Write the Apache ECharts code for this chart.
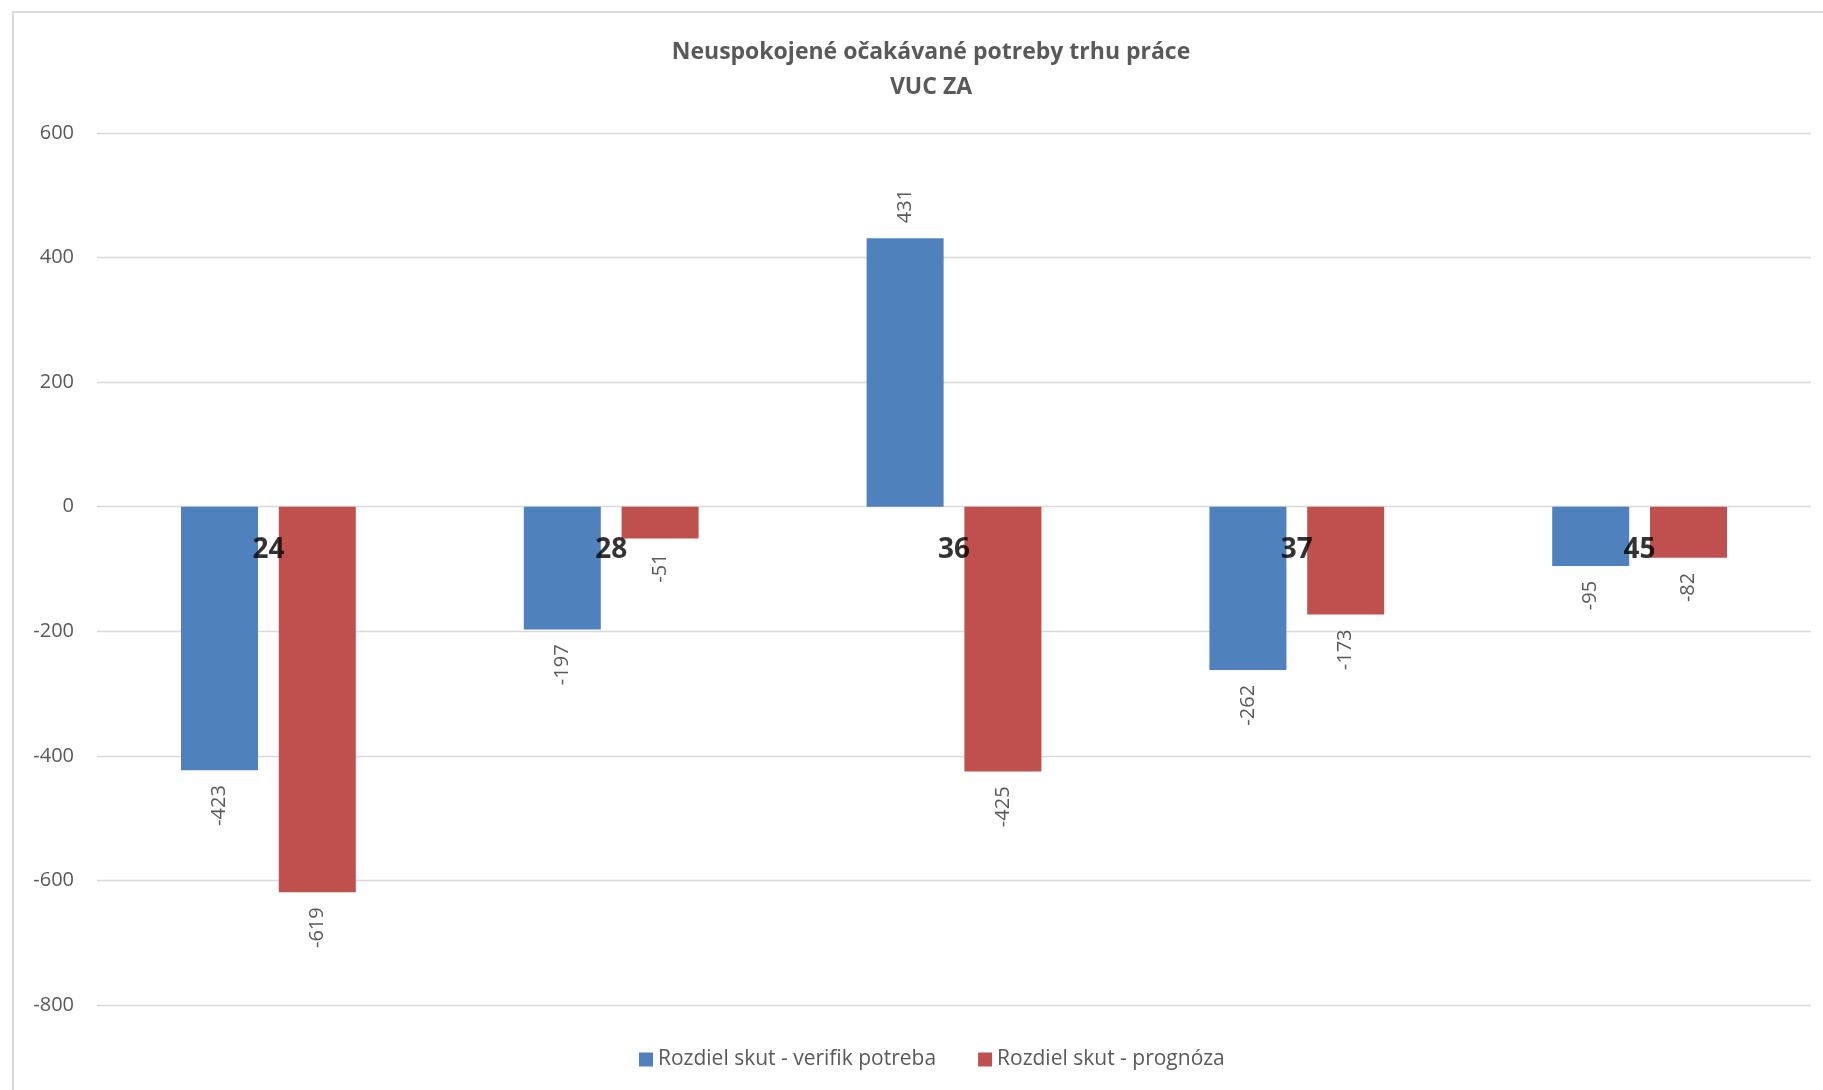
<!DOCTYPE html>
<html>
<head>
<meta charset="utf-8">
<script src="https://cdn.jsdelivr.net/npm/echarts@6/dist/echarts.min.js"></script>
<style>
html,body{margin:0;padding:0;background:#fff;}
#chart{width:1823px;height:1090px;}
</style>
</head>
<body>
<div id="chart"></div>
<script>
const categories = ['24', '28', '36', '37', '45'];
const seriesNames = ['Rozdiel skut - verifik potreba', 'Rozdiel skut - prognóza'];
const verifikValues = [-423, -197, 431, -262, -95];
const prognozaValues = [-619, -51, -425, -173, -82];
const yTicks = [-800, -600, -400, -200, 0, 200, 400, 600];

const FONT = "'Open Sans', 'Noto Sans', sans-serif";
const labelColor = '#595959';

function withLabels(values) {
  return values.map(v => ({
    value: v,
    label: {
      show: true,
      position: v < 0 ? 'bottom' : 'top',
      rotate: 90,
      align: v < 0 ? 'right' : 'left',
      verticalAlign: 'middle',
      distance: 15,
      color: labelColor,
      fontSize: 20,
      fontFamily: FONT
    }
  }));
}

const chart = echarts.init(document.getElementById('chart'), null, {renderer: 'canvas'});
chart.setOption({
  animation: false,
  backgroundColor: '#ffffff',
  title: {
    text: 'Neuspokojené očakávané potreby trhu práce\nVUC ZA',
    left: 926,
    textAlign: 'center',
    top: 30,
    textStyle: {
      fontFamily: FONT,
      fontSize: 23,
      fontWeight: 'bold',
      color: labelColor,
      lineHeight: 35
    }
  },
  graphic: [{
    type: 'rect',
    shape: {x: 13, y: 12, width: 1830, height: 1100},
    style: {fill: 'none', stroke: '#d9d9d9', lineWidth: 2},
    silent: true,
    z: -1
  }],
  legend: {
    data: seriesNames,
    left: 634,
    top: 1044,
    itemWidth: 14,
    itemHeight: 14,
    itemGap: 42,
    icon: 'rect',
    textStyle: {fontFamily: FONT, fontSize: 21, color: labelColor}
  },
  grid: {left: 97, right: 12, top: 133, bottom: 85, containLabel: false},
  xAxis: {
    type: 'category',
    data: categories,
    axisLine: {show: false},
    axisTick: {show: false},
    axisLabel: {show: false}
  },
  yAxis: {
    type: 'value',
    min: yTicks[0],
    max: yTicks[yTicks.length - 1],
    interval: 200,
    axisLine: {show: false},
    axisTick: {show: false},
    axisLabel: {margin: 23, fontFamily: FONT, fontSize: 20, color: labelColor},
    splitLine: {lineStyle: {color: '#d9d9d9', width: 1.3}}
  },
  series: [
    {
      name: seriesNames[0],
      type: 'bar',
      data: withLabels(verifikValues),
      barWidth: 77,
      barGap: '27%',
      itemStyle: {color: '#4F81BD'}
    },
    {
      name: seriesNames[1],
      type: 'bar',
      data: withLabels(prognozaValues),
      barWidth: 77,
      barGap: '27%',
      itemStyle: {color: '#C0504D'}
    },
    {
      name: 'categoryLabels',
      type: 'scatter',
      data: categories.map(c => [c, 0]),
      symbolSize: 0,
      silent: true,
      z: 10,
      label: {
        show: true,
        position: 'bottom',
        distance: 29,
        formatter: p => p.data[0],
        fontFamily: FONT,
        fontSize: 28,
        fontWeight: 'bold',
        color: '#000000'
      }
    }
  ]
});
</script>
</body>
</html>
